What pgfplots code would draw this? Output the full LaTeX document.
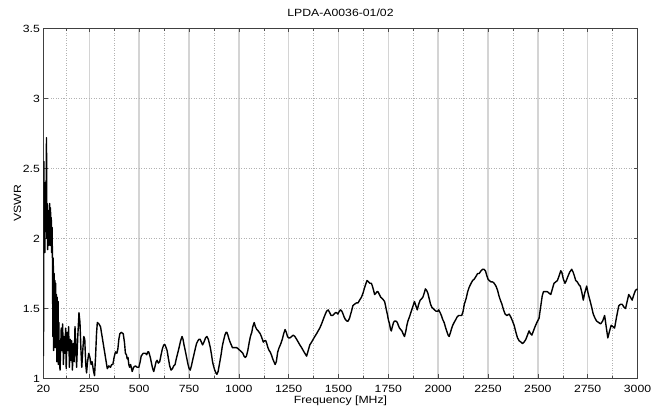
\documentclass[border=0pt]{standalone}
\usepackage{fontspec}
\setmainfont{Liberation Sans}[FakeStretch=1.17]
\usepackage{pgfplots}
\pgfplotsset{compat=1.18}
\begin{document}
\fontsize{10.5}{12}\selectfont
\begin{tikzpicture}
\begin{axis}[
  at={(0,0)}, anchor=south west,
  scale only axis, width=594bp, height=350bp,
  xmin=20, xmax=3000, ymin=1, ymax=3.5,
  xtick={20,250,500,750,1000,1250,1500,1750,2000,2250,2500,2750,3000},
  minor xtick={135,375,625,875,1125,1375,1625,1875,2125,2375,2625,2875},
  ytick={1,1.5,2,2.5,3,3.5},
  /pgf/number format/1000 sep={},
  /pgf/number format/assume math mode=true,
  xmajorgrids, xminorgrids,
  major grid style={solid, black!17, line width=1.6bp},
  minor grid style={black!30, line width=0.5bp, dash pattern=on 1bp off 1.5bp},
  extra y ticks={1.5,2,2.5,3},
  extra y tick labels={},
  extra y tick style={ymajorgrids=true,
    major grid style={black!30, line width=0.5bp, dash pattern=on 1bp off 1.5bp}},
  tick align=inside,
  major tick length=4bp, minor tick length=2.5bp,
  tick style={solid, black!70, line width=0.5bp},
  axis line style={solid, black!75, line width=0.6bp},
  xticklabel style={anchor=center, yshift=-10.5bp},
  title={LPDA-A0036-01/02},
  title style={at={(axis description cs:0.5,1)}, anchor=center, yshift=10bp},
  xlabel={Frequency [MHz]},
  xlabel style={at={(axis description cs:0.5,0)}, anchor=center, yshift=-22.5bp},
  ylabel={VSWR},
  ylabel style={at={(axis description cs:0,0.5)}, anchor=center, yshift=26bp},
]
\addplot[solid, black, line width=1.4bp, line join=round] coordinates {
(20,1.16) (22,2.55) (24,1.95) (26,2.30) (27,1.90) (29,2.40) (31,2.05) (33,2.30)
(35,2.72) (37,2.00) (39,2.25) (41,1.92) (43,2.20) (45,1.95) (47,2.15) (49,2.00)
(51,2.25) (53,1.95) (55,2.22) (57,2.05) (59,2.15) (61,1.90) (63,2.08) (65,1.85)
(67,1.30) (69,1.86) (71,1.20) (73,1.75) (75,1.30) (77,1.70) (79,1.22) (81,1.68)
(83,1.25) (85,1.60) (87,1.12) (89,1.58) (91,1.20) (93,1.55) (95,1.10) (97,1.40)
(99,1.15) (103,1.06) (109,1.36) (113,1.20) (116,1.39) (120,1.10) (123,1.30) (127,1.18)
(131,1.36) (134,1.07) (138,1.33) (142,1.20) (146,1.37) (150,1.08) (154,1.28) (157,1.13)
(161,1.27) (165,1.06) (170,1.25) (174,1.12) (178,1.37) (182,1.25) (186,1.08) (192,1.30)
(198,1.47) (203,1.40) (208,1.20) (212,1.08) (217,1.20) (222,1.30) (227,1.28) (232,1.10)
(236,1.04) (241,1.12) (247,1.18) (253,1.15) (259,1.10) (264,1.12) (270,1.06) (276,1.02)
(281,1.15) (286,1.32) (290,1.40) (298,1.39) (306,1.37) (314,1.30) (323,1.22) (331,1.15)
(340,1.07) (348,1.09) (356,1.08) (362,1.10) (368,1.10) (374,1.15) (381,1.19) (388,1.18)
(393,1.21) (398,1.28) (403,1.32) (410,1.33) (420,1.32) (426,1.26) (431,1.18) (436,1.17)
(440,1.14) (444,1.15) (448,1.10) (452,1.08) (457,1.10) (465,1.05) (472,1.08) (481,1.09)
(490,1.08) (498,1.08) (505,1.12) (510,1.16) (520,1.18) (531,1.18) (538,1.17) (543,1.19)
(548,1.19) (552,1.17) (556,1.15) (563,1.10) (568,1.07) (573,1.05) (580,1.09) (585,1.12)
(590,1.13) (596,1.11) (603,1.12) (610,1.17) (616,1.21) (623,1.24) (630,1.24) (635,1.22)
(640,1.20) (647,1.14) (653,1.09) (660,1.06) (667,1.07) (673,1.09) (680,1.10) (686,1.14)
(693,1.18) (700,1.22) (708,1.27) (715,1.30) (720,1.28) (725,1.24) (731,1.20) (738,1.15)
(745,1.10) (751,1.07) (756,1.06) (762,1.09) (768,1.13) (773,1.16) (781,1.21) (788,1.25)
(795,1.27) (800,1.28) (806,1.28) (812,1.26) (818,1.24) (825,1.26) (833,1.29) (840,1.30)
(847,1.28) (852,1.25) (857,1.22) (863,1.17) (868,1.12) (873,1.09) (879,1.06) (885,1.04)
(890,1.03) (896,1.05) (901,1.09) (906,1.13) (912,1.18) (917,1.23) (923,1.27) (930,1.31)
(936,1.33) (940,1.33) (945,1.31) (951,1.28) (956,1.26) (962,1.24) (968,1.22) (973,1.22)
(980,1.22) (990,1.22) (998,1.21) (1006,1.20) (1013,1.19) (1020,1.18) (1026,1.16) (1032,1.15)
(1038,1.16) (1045,1.20) (1051,1.25) (1058,1.30) (1065,1.33) (1070,1.37) (1077,1.40) (1083,1.37)
(1090,1.35) (1097,1.34) (1102,1.33) (1107,1.32) (1113,1.30) (1118,1.28) (1123,1.26) (1130,1.27)
(1135,1.27) (1140,1.25) (1146,1.22) (1152,1.20) (1157,1.19) (1163,1.17) (1170,1.14) (1176,1.12)
(1182,1.10) (1188,1.12) (1195,1.19) (1202,1.22) (1211,1.25) (1218,1.28) (1225,1.32) (1232,1.35)
(1238,1.33) (1244,1.30) (1250,1.29) (1256,1.29) (1265,1.30) (1273,1.31) (1281,1.30) (1290,1.28)
(1298,1.26) (1306,1.24) (1315,1.22) (1323,1.20) (1331,1.18) (1340,1.16) (1348,1.20) (1356,1.24)
(1365,1.26) (1373,1.28) (1381,1.30) (1390,1.32) (1398,1.34) (1406,1.36) (1415,1.39) (1423,1.42)
(1431,1.45) (1440,1.48) (1448,1.49) (1456,1.47) (1463,1.45) (1470,1.45) (1477,1.46) (1484,1.47)
(1490,1.47) (1497,1.46) (1504,1.48) (1510,1.49) (1517,1.48) (1523,1.46) (1528,1.44) (1535,1.42)
(1542,1.41) (1548,1.41) (1555,1.43) (1561,1.46) (1565,1.48) (1572,1.52) (1580,1.53) (1590,1.54)
(1598,1.54) (1606,1.56) (1615,1.58) (1623,1.61) (1631,1.65) (1638,1.68) (1643,1.70) (1650,1.69)
(1658,1.68) (1665,1.68) (1670,1.66) (1676,1.63) (1681,1.60) (1688,1.61) (1693,1.62) (1698,1.62)
(1705,1.60) (1712,1.58) (1720,1.57) (1726,1.56) (1731,1.55) (1736,1.52) (1740,1.49) (1745,1.46)
(1750,1.42) (1756,1.39) (1761,1.35) (1765,1.34) (1770,1.37) (1776,1.40) (1781,1.41) (1788,1.41)
(1795,1.40) (1800,1.38) (1806,1.36) (1812,1.35) (1818,1.34) (1824,1.32) (1831,1.30) (1838,1.34)
(1843,1.38) (1848,1.41) (1856,1.44) (1865,1.48) (1872,1.51) (1881,1.55) (1888,1.52) (1895,1.49)
(1902,1.53) (1910,1.56) (1917,1.57) (1923,1.58) (1930,1.61) (1936,1.64) (1942,1.63) (1948,1.61)
(1955,1.57) (1962,1.53) (1968,1.51) (1975,1.50) (1982,1.49) (1990,1.48) (1998,1.48) (2003,1.49)
(2010,1.47) (2016,1.45) (2023,1.42) (2030,1.40) (2038,1.36) (2045,1.33) (2050,1.31) (2055,1.30)
(2062,1.33) (2068,1.36) (2073,1.38) (2080,1.40) (2088,1.42) (2095,1.44) (2103,1.45) (2110,1.45)
(2118,1.45) (2125,1.48) (2131,1.53) (2140,1.57) (2148,1.62) (2155,1.65) (2165,1.68) (2173,1.70)
(2181,1.71) (2190,1.73) (2198,1.75) (2206,1.75) (2215,1.77) (2223,1.78) (2230,1.78) (2237,1.77)
(2243,1.74) (2250,1.71) (2256,1.70) (2265,1.69) (2273,1.69) (2281,1.68) (2290,1.66) (2298,1.63)
(2305,1.59) (2312,1.56) (2320,1.53) (2328,1.49) (2336,1.46) (2345,1.45) (2356,1.46) (2364,1.44)
(2373,1.41) (2381,1.38) (2390,1.33) (2398,1.29) (2406,1.27) (2415,1.26) (2423,1.25) (2431,1.26)
(2440,1.28) (2448,1.31) (2456,1.34) (2463,1.32) (2470,1.31) (2478,1.34) (2486,1.37) (2495,1.40)
(2506,1.43) (2515,1.52) (2522,1.59) (2528,1.62) (2540,1.62) (2548,1.62) (2556,1.61) (2565,1.60)
(2573,1.64) (2581,1.68) (2590,1.69) (2598,1.70) (2606,1.73) (2615,1.77) (2620,1.76) (2628,1.71)
(2636,1.68) (2643,1.70) (2651,1.73) (2660,1.76) (2670,1.78) (2677,1.76) (2684,1.73) (2690,1.70)
(2698,1.69) (2706,1.67) (2713,1.66) (2720,1.62) (2728,1.56) (2735,1.61) (2745,1.66) (2752,1.61)
(2761,1.56) (2770,1.51) (2778,1.46) (2787,1.43) (2795,1.41) (2805,1.40) (2815,1.39) (2825,1.41)
(2835,1.45) (2843,1.37) (2851,1.29) (2860,1.34) (2868,1.38) (2877,1.37) (2885,1.36) (2895,1.44)
(2906,1.52) (2915,1.53) (2923,1.53) (2932,1.51) (2940,1.50) (2948,1.55) (2956,1.60) (2965,1.58)
(2973,1.56) (2982,1.60) (2990,1.63) (3000,1.64)
};
\end{axis}
\pgfresetboundingbox
\path[use as bounding box] (-43.5bp,-33.5bp) rectangle (607.5bp,378.5bp);
\end{tikzpicture}
\end{document}
